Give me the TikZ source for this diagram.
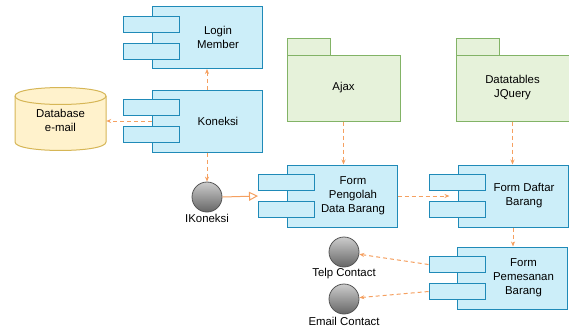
\documentclass[tikz,border=0pt]{standalone}
\usepackage{fontspec}
\setmainfont{Liberation Sans}
\usetikzlibrary{arrows.meta,positioning}
\definecolor{compfill}{HTML}{CCEEF9}
\definecolor{compdraw}{HTML}{1F8AB8}
\definecolor{pkgfill}{HTML}{E6F2DA}
\definecolor{pkgdraw}{HTML}{82B366}
\definecolor{dbfill}{HTML}{FFF2CC}
\definecolor{dbdraw}{HTML}{D6B656}
\definecolor{conn}{HTML}{F5A060}
\definecolor{balldraw}{HTML}{555555}
\tikzset{
  every node/.style={font=\fontsize{11.4}{14}\selectfont, text=black},
  compbox/.style={draw=compdraw, fill=compfill, line width=1pt, minimum width=110pt, minimum height=62pt, inner sep=0pt},
  port/.style={draw=compdraw, fill=compfill, line width=1pt, minimum width=56pt, minimum height=16pt, inner sep=0pt},
  pkgbody/.style={draw=pkgdraw, fill=pkgfill, line width=1pt, minimum width=113pt, minimum height=66pt, inner sep=0pt, align=center},
  pkgtab/.style={draw=pkgdraw, fill=pkgfill, line width=1pt, minimum width=43pt, minimum height=17pt, inner sep=0pt},
  iface/.style={circle, draw=balldraw, line width=0.8pt, top color=gray!40, bottom color=black!60, minimum size=30pt, inner sep=0pt},
  dep/.style={draw=conn, line width=1pt, dash pattern=on 4pt off 3pt, -{Stealth[length=5pt,width=4pt]}},
  real/.style={draw=conn, line width=1pt, -{Triangle[open,length=9pt,width=9pt]}},
}
\newcommand{\component}[4]{% name, x, y, text
  \node[compbox] (#1) at (#2,#3) {};
  \node[port] (#1a) at ([yshift=13.5pt]#1.west) {};
  \node[port] (#1b) at ([yshift=-13.5pt]#1.west) {};
  \node[align=center] (#1t) at ([xshift=11pt]#1.center) {#4};
}
\begin{document}
\begin{tikzpicture}[x=1pt,y=-1pt]
\useasboundingbox (0,0) rectangle (569,330);

% database cylinder
\filldraw[draw=dbdraw, fill=dbfill, line width=1pt]
  (15,96) -- (15,142) .. controls (15,153.3) and (106,153.3) .. (106,142)
  -- (106,96) .. controls (106,84.7) and (15,84.7) .. (15,96) -- cycle;
\draw[draw=dbdraw, line width=1pt] (15,96) .. controls (15,107.3) and (106,107.3) .. (106,96);
\node[minimum width=91pt, minimum height=40pt, inner sep=0pt, align=center] (db) at (60.5,120) {Database\\e-mail};

% components
\component{login}{207}{37.5}{Login\\Member}
\component{kon}{207}{121}{Koneksi}
\component{fp}{342}{196}{Form\\Pengolah\\Data Barang}
\component{fd}{513}{196}{Form Daftar\\Barang}
\component{fpm}{512.5}{278}{Form\\Pemesanan\\Barang}

% packages
\node[pkgtab] (ajaxtab) at (308.5,46.5) {};
\node[pkgbody] (ajax) at (343.5,88) {Ajax};
\node[pkgtab] (dttab) at (477.5,46.5) {};
\node[pkgbody] (dt) at (512.5,88) {Datatables\\JQuery};

% interfaces
\node[iface] (ikon) at (207,197) {};
\node (ikonl) at (207,218) {IKoneksi};
\node[iface] (telp) at (344,252) {};
\node (telpl) at (344,274) {Telp Contact};
\node[iface] (email) at (344,299) {};
\node (emaill) at (344,321) {Email Contact};

% connectors
\draw[dep] (kon.north) -- (login.south);
\draw[dep] (kon.west) -- (kon.west -| db.east);
\draw[dep] (kon.south) -- (ikon.north);
\draw[real] (ikon.east) -- (fpa.west |- fp.west);
\draw[dep] (ajax.south) -- (ajax.south |- fp.north);
\draw[dep] (dt.south) -- (dt.south |- fd.north);
\draw[dep] (fp.east) -- ([xshift=-8pt]fd.west);
\draw[dep] (fd.south) -- (fd.south |- fpm.north);
\draw[dep] (fpma.west) -- (telp);
\draw[dep] (fpmb.west) -- (email);
\end{tikzpicture}
\end{document}
